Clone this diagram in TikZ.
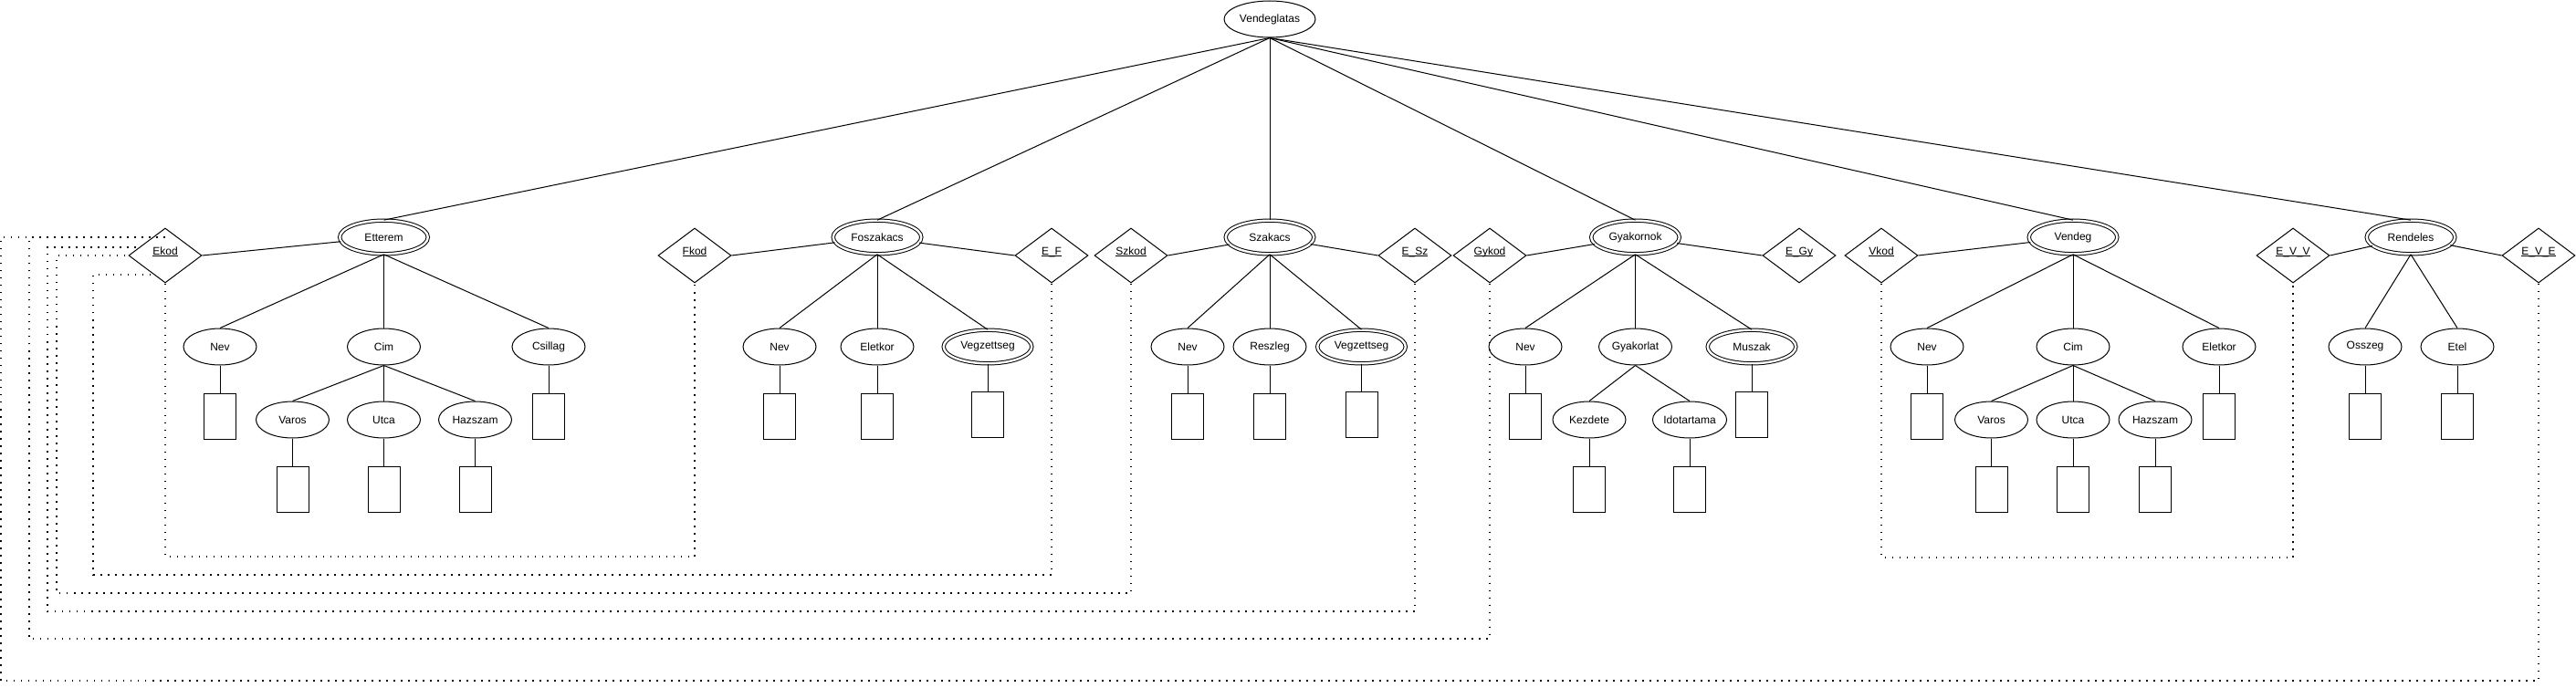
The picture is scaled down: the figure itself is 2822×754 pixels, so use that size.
\documentclass[tikz,border=0pt]{standalone}
\usepackage{fontspec}
\setmainfont{Liberation Sans}
\usetikzlibrary{shapes.geometric,positioning}

\newcommand{\keyname}[1]{\underline{\smash{#1}}}

\begin{document}
\begin{tikzpicture}[
    x=1pt,
    y=-1pt,
    line width=1pt,
    every node/.style={font=\fontsize{12}{14}\selectfont, line width=1pt},
    root/.style={draw, ellipse, inner sep=0pt, minimum width=100pt, minimum height=40pt},
    entity/.style={draw, ellipse, double, double distance=2.4pt, inner sep=0pt,
        minimum width=96.6pt, minimum height=36.6pt},
    multiattr/.style={entity},
    attr/.style={draw, ellipse, inner sep=0pt, minimum width=80pt, minimum height=40pt},
    key/.style={draw, diamond, inner sep=0pt, minimum width=80pt, minimum height=60pt},
    valbox/.style={draw, rectangle, minimum width=35pt, minimum height=50pt},
    fklink/.style={line width=1.5pt, dash pattern=on 1.5pt off 6.5pt}
]

\useasboundingbox (0,0) rectangle (2822,754);

% -------------------------------------------------------------------------
% Levels
% -------------------------------------------------------------------------
\def\yEntity{260}
\def\yKey{280}
\def\yAttr{380}
\def\ySub{460}

% -------------------------------------------------------------------------
% Root and entities
% -------------------------------------------------------------------------
\node[ root ] (vendeglatas) at (1391,21) {Vendeglatas};

\node[ entity ] (etterem)   at ( 420.5,\yEntity) {Etterem};
\node[ entity ] (foszakacs) at ( 961,\yEntity) {Foszakacs};
\node[ entity ] (szakacs)   at (1391,\yEntity) {Szakacs};
\node[ entity ] (gyakornok) at (1791.5,\yEntity) {Gyakornok};
\node[ entity ] (vendeg)    at (2271,\yEntity) {Vendeg};
\node[ entity ] (rendeles)  at (2641,\yEntity) {Rendeles};

\foreach \e in {etterem, foszakacs, szakacs, gyakornok, vendeg, rendeles}{
    \draw (vendeglatas.south) -- (\e.north);
}

% -------------------------------------------------------------------------
% Keys
% -------------------------------------------------------------------------
\node[ key ] (ekod)  at ( 181,\yKey) {\keyname{Ekod}};
\node[ key ] (fkod)  at ( 761,\yKey) {\keyname{Fkod}};
\node[ key ] (ef)    at (1152,\yKey) {\keyname{E\_F}};
\node[ key ] (szkod) at (1239,\yKey) {\keyname{Szkod}};
\node[ key ] (esz)   at (1550,\yKey) {\keyname{E\_Sz}};
\node[ key ] (gykod) at (1632,\yKey) {\keyname{Gykod}};
\node[ key ] (egy)   at (1971,\yKey) {\keyname{E\_Gy}};
\node[ key ] (vkod)  at (2061,\yKey) {\keyname{Vkod}};
\node[ key ] (evv)   at (2512,\yKey) {\keyname{E\_V\_V}};
\node[ key ] (eve)   at (2781,\yKey) {\keyname{E\_V\_E}};

\draw (ekod.east) -- (etterem);
\draw (fkod.east) -- (foszakacs);
\draw (foszakacs) -- (ef.west);
\draw (szkod.east) -- (szakacs);
\draw (szakacs) -- (esz.west);
\draw (gykod.east) -- (gyakornok);
\draw (gyakornok) -- (egy.west);
\draw (vkod.east) -- (vendeg);
\draw (evv.east) -- (rendeles);
\draw (rendeles) -- (eve.west);

% -------------------------------------------------------------------------
% Attributes
% -------------------------------------------------------------------------
\node[ attr ] (et-nev)     at ( 241,\yAttr) {Nev};
\node[ attr ] (et-cim)     at ( 420.5,\yAttr) {Cim};
\node[ attr ] (et-csillag) at ( 601,\yAttr) {Csillag};
\node[ attr ] (et-varos)   at ( 320.5,\ySub) {Varos};
\node[ attr ] (et-utca)    at ( 420.5,\ySub) {Utca};
\node[ attr ] (et-hazszam) at ( 520.5,\ySub) {Hazszam};

\node[ attr ] (fo-nev)     at ( 854,\yAttr) {Nev};
\node[ attr ] (fo-eletkor) at ( 961,\yAttr) {Eletkor};
\node[ multiattr ] (fo-vegz) at (1082,\yAttr) {Vegzettseg};

\node[ attr ] (sz-nev)     at (1301,\yAttr) {Nev};
\node[ attr ] (sz-reszleg) at (1391,\yAttr) {Reszleg};
\node[ multiattr ] (sz-vegz) at (1491.5,\yAttr) {Vegzettseg};

\node[ attr ] (gy-nev)       at (1671,\yAttr) {Nev};
\node[ attr ] (gy-gyakorlat) at (1791.5,\yAttr) {Gyakorlat};
\node[ multiattr ] (gy-muszak) at (1919,\yAttr) {Muszak};
\node[ attr ] (gy-kezdete)    at (1741,\ySub) {Kezdete};
\node[ attr ] (gy-idotartama) at (1851,\ySub) {Idotartama};

\node[ attr ] (ve-nev)     at (2111,\yAttr) {Nev};
\node[ attr ] (ve-cim)     at (2271,\yAttr) {Cim};
\node[ attr ] (ve-eletkor) at (2431,\yAttr) {Eletkor};
\node[ attr ] (ve-varos)   at (2181.5,\ySub) {Varos};
\node[ attr ] (ve-utca)    at (2271,\ySub) {Utca};
\node[ attr ] (ve-hazszam) at (2361,\ySub) {Hazszam};

\node[ attr ] (re-osszeg) at (2591,\yAttr) {Osszeg};
\node[ attr ] (re-etel)   at (2692,\yAttr) {Etel};

\foreach \p/\c in {etterem/et-nev, etterem/et-cim, etterem/et-csillag,
    et-cim/et-varos, et-cim/et-utca, et-cim/et-hazszam,
    foszakacs/fo-nev, foszakacs/fo-eletkor, foszakacs/fo-vegz,
    szakacs/sz-nev, szakacs/sz-reszleg, szakacs/sz-vegz,
    gyakornok/gy-nev, gyakornok/gy-gyakorlat, gyakornok/gy-muszak,
    gy-gyakorlat/gy-kezdete, gy-gyakorlat/gy-idotartama,
    vendeg/ve-nev, vendeg/ve-cim, vendeg/ve-eletkor,
    ve-cim/ve-varos, ve-cim/ve-utca, ve-cim/ve-hazszam,
    rendeles/re-osszeg, rendeles/re-etel}{
    \draw (\p.south) -- (\c.north);
}

% -------------------------------------------------------------------------
% Value boxes
% -------------------------------------------------------------------------
\foreach \a in {et-nev, et-varos, et-utca, et-hazszam, et-csillag,
    fo-nev, fo-eletkor, fo-vegz, sz-nev, sz-reszleg, sz-vegz,
    gy-nev, gy-kezdete, gy-idotartama, gy-muszak,
    ve-nev, ve-varos, ve-utca, ve-hazszam, ve-eletkor,
    re-osszeg, re-etel}{
    \node[ valbox, below=30pt of \a ] (\a-val) {};
    \draw (\a.south) -- (\a-val.north);
}

% -------------------------------------------------------------------------
% Foreign key links
% -------------------------------------------------------------------------
\draw[ fklink ] (ekod.south) -- ++(0,299.5) -| (fkod.south);
\draw[ fklink ] (ef.south) |- (102,630) |- (ekod.239);
\draw[ fklink ] (szkod.south) |- (62,650) |- (ekod.west);
\draw[ fklink ] (esz.south) |- (52,670) |- (ekod.162);
\draw[ fklink ] (gykod.south) |- (32,700) |- (ekod.north |- 0,260);
\draw[ fklink ] (eve.south) |- (1,746) |- (ekod.north |- 0,260);
\draw[ fklink ] (vkod.south) -- ++(0,300.5) -| (evv.south);

\end{tikzpicture}
\end{document}
